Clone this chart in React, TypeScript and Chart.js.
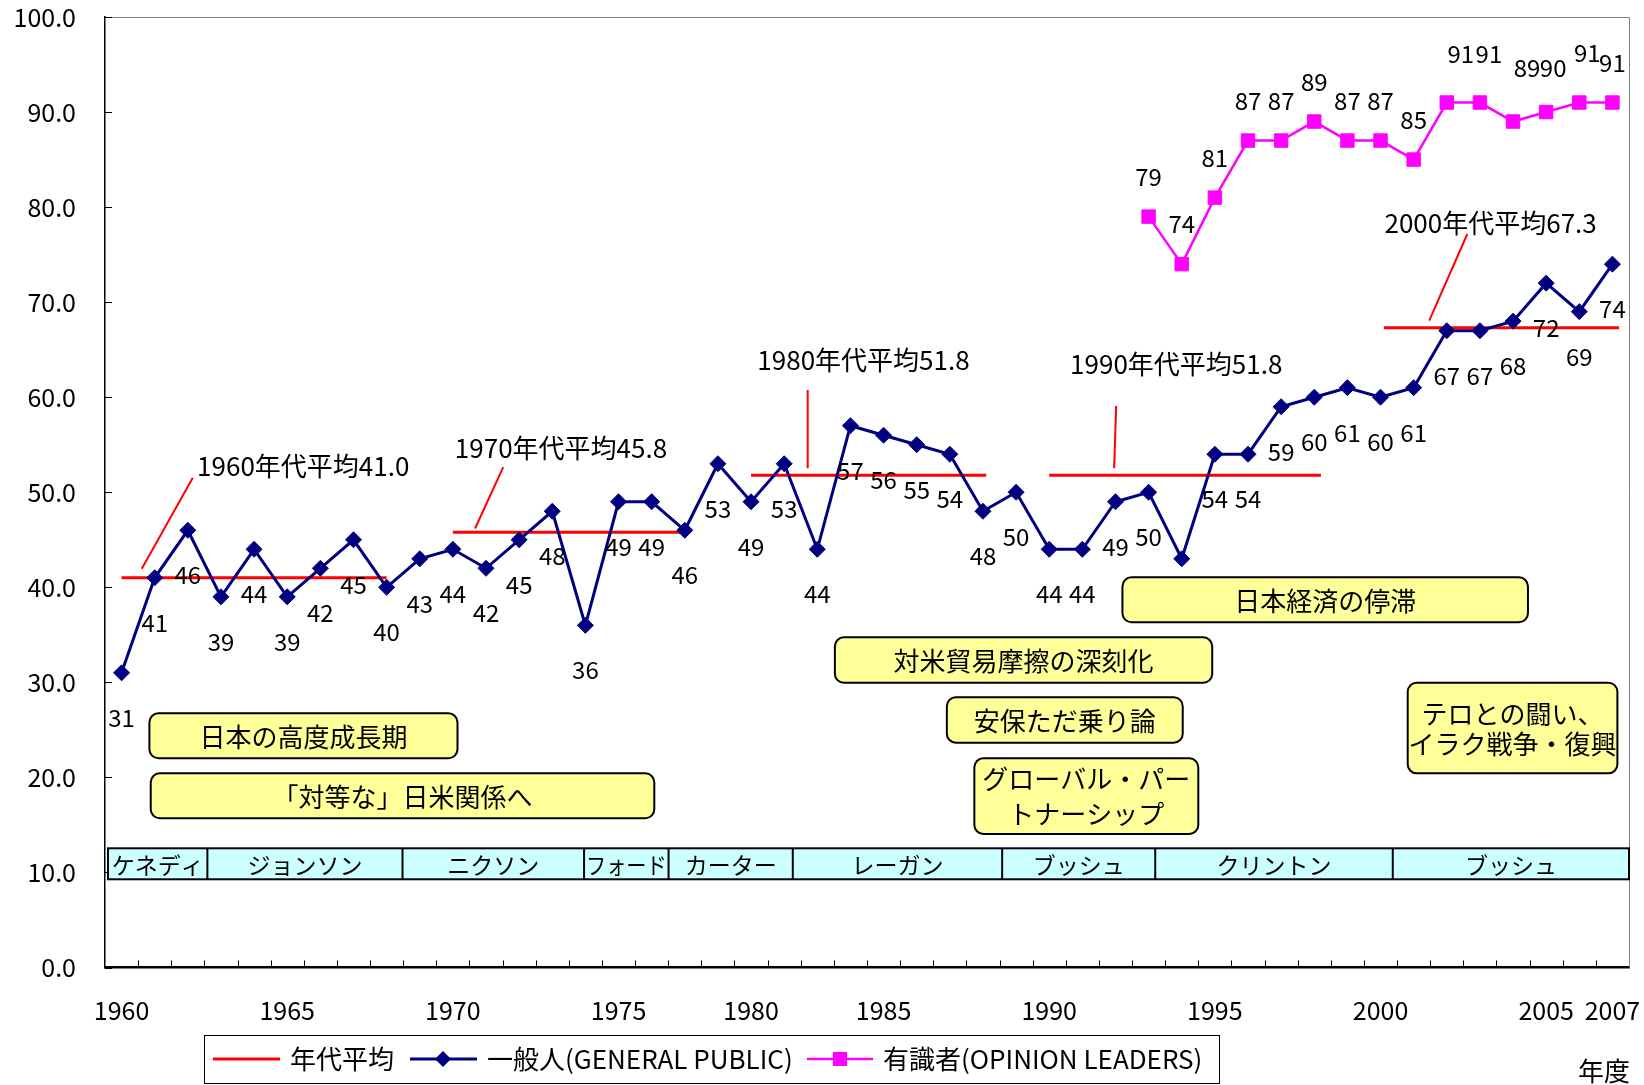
import React, { useEffect, useRef } from 'react';
import { Chart, registerables } from 'chart.js';

Chart.register(...registerables);

const W = 1644;
const H = 1085;
const FONT = "'Noto Sans CJK JP', 'Noto Sans', sans-serif";

// ---------- data ----------
const years = [
  '1960', '1961', '1962', '1963', '1964', '1965', '1966', '1967', '1968', '1969',
  '1970', '1971', '1972', '1973', '1974', '1975', '1977', '1978', '1979',
  '1980', '1982', '1983', '1984', '1985', '1986', '1987', '1988', '1989',
  '1990', '1991', '1992', '1993', '1994', '1995', '1996', '1997', '1998', '1999',
  '2000', '2001', '2002', '2003', '2004', '2005', '2006', '2007',
];
const shownYearLabels = ['1960', '1965', '1970', '1975', '1980', '1985', '1990', '1995', '2000', '2005', '2007'];

const generalPublic = [
  31, 41, 46, 39, 44, 39, 42, 45, 40, 43,
  44, 42, 45, 48, 36, 49, 49, 46, 53,
  49, 53, 44, 57, 56, 55, 54, 48, 50,
  44, 44, 49, 50, 43, 54, 54, 59, 60, 61,
  60, 61, 67, 67, 68, 72, 69, 74,
];
const opinionLeaders: (number | null)[] = [
  null, null, null, null, null, null, null, null, null, null,
  null, null, null, null, null, null, null, null, null,
  null, null, null, null, null, null, null, null, null,
  null, null, null, 79, 74, 81, 87, 87, 89, 87, 87,
  85, 91, 91, 89, 90, 91, 91,
];

const yTickValues = [0, 10, 20, 30, 40, 50, 60, 70, 80, 90, 100];

const decadeNames = ['1960', '1970', '1980', '1990', '2000'];
const decadeAverages = [41.0, 45.8, 51.8, 51.8, 67.3];

const presidents = ['ケネディ', 'ジョンソン', 'ニクソン', 'フォード', 'カーター', 'レーガン', 'ブッシュ', 'クリントン', 'ブッシュ'];

const eventTexts = [
  ['日本の高度成長期'],
  ['「対等な」日米関係へ'],
  ['対米貿易摩擦の深刻化'],
  ['安保ただ乗り論'],
  ['グローバル・パー', 'トナーシップ'],
  ['日本経済の停滞'],
  ['テロとの闘い、', 'イラク戦争・復興'],
];

const decadeLegendLabel = '年代平均';
const generalLabel = '一般人(GENERAL PUBLIC)';
const leadersLabel = '有識者(OPINION LEADERS)';
const axisTitle = '年度';

// ---------- layout (positions in axis units: category index / value) ----------
const PLOT = { left: 105, top: 17, right: 1629, bottom: 967.5 };

const decadeLineSpan = [[0, 8], [10, 17], [19, 26.1], [28, 36.2], [38.1, 45.2]];
const decadeTextAnchor = [[2.28, 52.76], [10.06, 54.66], [19.19, 63.91], [28.63, 63.49], [38.12, 78.27]];
const decadeLeader = [
  [0.61, 41.94, 2.15, 51.53],
  [10.67, 46.19, 11.52, 52.64],
  [20.71, 52.52, 20.71, 60.76],
  [29.96, 52.52, 30.02, 59.07],
  [39.47, 68.05, 40.62, 77.17],
];
const presidentBounds = [-0.41, 2.59, 8.48, 13.96, 16.51, 20.26, 26.58, 31.2, 38.37, 45.5];
const presidentBand = [9.28, 12.54];
const eventBoxes = [
  { x0: 0.84, x1: 10.14, y0: 22.01, y1: 26.74, lh: 30 },
  { x0: 0.88, x1: 16.08, y0: 15.7, y1: 20.43, lh: 30 },
  { x0: 21.53, x1: 32.92, y0: 29.96, y1: 34.74, lh: 30 },
  { x0: 24.91, x1: 32.03, y0: 23.65, y1: 28.43, lh: 30 },
  { x0: 25.74, x1: 32.5, y0: 14.05, y1: 22.01, lh: 35 },
  { x0: 30.21, x1: 42.45, y0: 36.32, y1: 41.05, lh: 30 },
  { x0: 38.82, x1: 45.15, y0: 20.43, y1: 29.96, lh: 30 },
];
// label offsets (px) for value labels
const GP_LABEL_DY = 45;
const OL_LABEL_DY = -40;
const olLabelTweaks: Record<string, [number, number]> = {
  '2002': [14, -49],
  '2003': [9, -49],
  '2004': [14, -54],
  '2005': [7, -44],
  '2006': [8, -50],
  '2007': [0, -40],
};

const NAVY = '#000080';
const MAGENTA = '#FF00FF';
const RED = '#FF0000';

function roundRect(ctx: CanvasRenderingContext2D, x: number, y: number, w: number, h: number, r: number) {
  ctx.beginPath();
  ctx.moveTo(x + r, y);
  ctx.arcTo(x + w, y, x + w, y + h, r);
  ctx.arcTo(x + w, y + h, x, y + h, r);
  ctx.arcTo(x, y + h, x, y, r);
  ctx.arcTo(x, y, x + w, y, r);
  ctx.closePath();
}

const overlayPlugin = {
  id: 'overlay',
  beforeDatasetsDraw(chart: any) {
    const { ctx } = chart;
    const xs = chart.scales.x;
    const ys = chart.scales.y;
    ctx.save();
    ctx.strokeStyle = RED;
    ctx.lineWidth = 3;
    decadeAverages.forEach((avg, i) => {
      const [a, b] = decadeLineSpan[i];
      ctx.beginPath();
      ctx.moveTo(xs.getPixelForValue(a), ys.getPixelForValue(avg));
      ctx.lineTo(xs.getPixelForValue(b), ys.getPixelForValue(avg));
      ctx.stroke();
    });
    ctx.restore();
  },
  afterDatasetsDraw(chart: any) {
    const { ctx, chartArea } = chart;
    const xs = chart.scales.x;
    const ys = chart.scales.y;
    ctx.save();

    // plot frame top / right
    ctx.strokeStyle = '#808080';
    ctx.lineWidth = 1;
    ctx.beginPath();
    ctx.moveTo(chartArea.left, chartArea.top + 0.5);
    ctx.lineTo(chartArea.right + 0.5, chartArea.top + 0.5);
    ctx.lineTo(chartArea.right + 0.5, chartArea.bottom);
    ctx.stroke();

    // inside tick marks
    ctx.strokeStyle = '#000';
    ctx.lineWidth = 1;
    for (let i = 0; i < years.length - 1; i++) {
      const x = Math.round(xs.getPixelForValue(i + 0.5)) + 0.5;
      ctx.beginPath();
      ctx.moveTo(x, chartArea.bottom);
      ctx.lineTo(x, chartArea.bottom - 7);
      ctx.stroke();
    }
    yTickValues.forEach((v) => {
      const y = Math.round(ys.getPixelForValue(v)) + 0.5;
      ctx.beginPath();
      ctx.moveTo(chartArea.left, y);
      ctx.lineTo(chartArea.left + 7, y);
      ctx.stroke();
    });

    // president band
    const by0 = ys.getPixelForValue(presidentBand[1]);
    const by1 = ys.getPixelForValue(presidentBand[0]);
    const bx0 = xs.getPixelForValue(presidentBounds[0]);
    const bx1 = xs.getPixelForValue(presidentBounds[presidentBounds.length - 1]);
    ctx.fillStyle = '#CCFFFF';
    ctx.fillRect(bx0, by0, bx1 - bx0, by1 - by0);
    ctx.strokeStyle = '#000';
    ctx.lineWidth = 2;
    ctx.strokeRect(bx0, by0, bx1 - bx0, by1 - by0);
    ctx.font = `23px ${FONT}`;
    ctx.textAlign = 'center';
    ctx.textBaseline = 'middle';
    ctx.fillStyle = '#000';
    presidents.forEach((name, i) => {
      const xa = xs.getPixelForValue(presidentBounds[i]);
      const xb = xs.getPixelForValue(presidentBounds[i + 1]);
      if (i > 0) {
        ctx.beginPath();
        ctx.moveTo(xa, by0);
        ctx.lineTo(xa, by1);
        ctx.stroke();
      }
      ctx.fillText(name, (xa + xb) / 2, (by0 + by1) / 2 + 1, xb - xa - 4);
    });

    // decade leader lines + texts
    ctx.strokeStyle = RED;
    ctx.lineWidth = 2;
    decadeLeader.forEach(([x0, y0, x1, y1]) => {
      ctx.beginPath();
      ctx.moveTo(xs.getPixelForValue(x0), ys.getPixelForValue(y0));
      ctx.lineTo(xs.getPixelForValue(x1), ys.getPixelForValue(y1));
      ctx.stroke();
    });
    ctx.fillStyle = '#000';
    ctx.font = `26px ${FONT}`;
    ctx.textAlign = 'left';
    ctx.textBaseline = 'middle';
    decadeNames.forEach((d, i) => {
      const [ax, ay] = decadeTextAnchor[i];
      ctx.fillText(`${d}年代平均${decadeAverages[i].toFixed(1)}`, xs.getPixelForValue(ax), ys.getPixelForValue(ay));
    });

    // value labels
    ctx.font = `24px ${FONT}`;
    ctx.textAlign = 'center';
    ctx.textBaseline = 'middle';
    chart.data.datasets.forEach((ds: any, di: number) => {
      const meta = chart.getDatasetMeta(di);
      meta.data.forEach((pt: any, j: number) => {
        const v = ds.data[j];
        if (v === null || v === undefined) return;
        let dx = 0;
        let dy = di === 0 ? GP_LABEL_DY : OL_LABEL_DY;
        if (di === 1 && olLabelTweaks[years[j]]) {
          [dx, dy] = olLabelTweaks[years[j]];
        }
        ctx.fillText(String(v), pt.x + dx, pt.y + dy);
      });
    });

    // event boxes
    eventBoxes.forEach((b, i) => {
      const x0 = xs.getPixelForValue(b.x0);
      const x1 = xs.getPixelForValue(b.x1);
      const y0 = ys.getPixelForValue(b.y1);
      const y1 = ys.getPixelForValue(b.y0);
      roundRect(ctx, x0, y0, x1 - x0, y1 - y0, 9);
      ctx.fillStyle = '#FFFF99';
      ctx.fill();
      ctx.strokeStyle = '#000';
      ctx.lineWidth = 2;
      ctx.stroke();
      ctx.fillStyle = '#000';
      ctx.font = `26px ${FONT}`;
      const lines = eventTexts[i];
      const cy = (y0 + y1) / 2;
      lines.forEach((t, k) => {
        ctx.fillText(t, (x0 + x1) / 2, cy + (k - (lines.length - 1) / 2) * b.lh + 1);
      });
    });
    ctx.restore();
  },
  afterDraw(chart: any) {
    const { ctx } = chart;
    ctx.save();
    // legend box
    const lx0 = 204, lx1 = 1219, ly0 = 1035, ly1 = 1083;
    const cy = (ly0 + ly1) / 2;
    ctx.strokeStyle = '#000';
    ctx.lineWidth = 1;
    ctx.strokeRect(lx0 + 0.5, ly0 + 0.5, lx1 - lx0, ly1 - ly0);
    ctx.font = `26px ${FONT}`;
    ctx.textAlign = 'left';
    ctx.textBaseline = 'middle';
    ctx.fillStyle = '#000';
    // item 1
    ctx.strokeStyle = RED;
    ctx.lineWidth = 3;
    ctx.beginPath(); ctx.moveTo(213, cy); ctx.lineTo(280, cy); ctx.stroke();
    ctx.fillText(decadeLegendLabel, 290, cy);
    // item 2
    ctx.strokeStyle = NAVY;
    ctx.beginPath(); ctx.moveTo(410, cy); ctx.lineTo(477, cy); ctx.stroke();
    ctx.fillStyle = NAVY;
    ctx.beginPath();
    ctx.moveTo(443 - 8, cy); ctx.lineTo(443, cy - 8); ctx.lineTo(443 + 8, cy); ctx.lineTo(443, cy + 8);
    ctx.closePath(); ctx.fill();
    ctx.fillStyle = '#000';
    ctx.fillText(chart.data.datasets[0].label, 487, cy);
    // item 3
    ctx.strokeStyle = MAGENTA;
    ctx.lineWidth = 2.5;
    ctx.beginPath(); ctx.moveTo(807, cy); ctx.lineTo(873, cy); ctx.stroke();
    ctx.fillStyle = MAGENTA;
    ctx.fillRect(840 - 7, cy - 7, 14, 14);
    ctx.fillStyle = '#000';
    ctx.fillText(chart.data.datasets[1].label, 883, cy);
    // axis title
    ctx.textAlign = 'center';
    ctx.fillText(axisTitle, 1604, 1071);
    ctx.restore();
  },
};

export default function App() {
  const ref = useRef<HTMLCanvasElement>(null);
  useEffect(() => {
    const canvas = ref.current;
    if (!canvas) return;
    Chart.defaults.font.family = FONT;
    const chart = new Chart(canvas, {
      type: 'line',
      data: {
        labels: years,
        datasets: [
          {
            label: generalLabel,
            data: generalPublic,
            borderColor: NAVY,
            backgroundColor: NAVY,
            borderWidth: 3,
            pointStyle: 'rectRot',
            pointRadius: 8,
            pointBorderWidth: 1,
            pointBackgroundColor: NAVY,
            pointBorderColor: NAVY,
            tension: 0,
          },
          {
            label: leadersLabel,
            data: opinionLeaders,
            borderColor: MAGENTA,
            backgroundColor: MAGENTA,
            borderWidth: 2.5,
            pointStyle: 'rect',
            pointRadius: 9.5,
            pointBorderWidth: 1,
            pointBackgroundColor: MAGENTA,
            pointBorderColor: MAGENTA,
            spanGaps: false,
            tension: 0,
          },
        ],
      },
      options: {
        responsive: false,
        devicePixelRatio: 1,
        animation: false,
        events: [],
        layout: { padding: { left: 0, top: PLOT.top, right: W - PLOT.right, bottom: 0 } },
        plugins: {
          legend: { display: false },
          tooltip: { enabled: false },
        },
        scales: {
          x: {
            type: 'category',
            offset: true,
            grid: { display: false },
            border: { display: true, color: '#000', width: 2.5 },
            ticks: {
              autoSkip: false,
              maxRotation: 0,
              minRotation: 0,
              padding: 20,
              color: '#000',
              font: { size: 25, family: FONT },
              callback: (_v: any, i: number) => (shownYearLabels.includes(years[i]) ? years[i] : ''),
            },
            afterFit: (s: any) => {
              s.height = H - PLOT.bottom;
              s.paddingLeft = 0;
              s.paddingRight = 0;
            },
          },
          y: {
            min: 0,
            max: 100,
            grid: { display: false },
            border: { display: true, color: '#000', width: 1.5 },
            ticks: {
              stepSize: 10,
              padding: 21,
              color: '#000',
              font: { size: 25, family: FONT },
              callback: (v: any) => Number(v).toFixed(1),
            },
            afterFit: (s: any) => {
              s.width = PLOT.left;
              s.paddingTop = 0;
              s.paddingBottom = 0;
            },
          },
        },
      },
      plugins: [overlayPlugin],
    } as any);
    return () => chart.destroy();
  }, []);
  return (
    <div style={{ position: 'fixed', left: 0, top: 0, width: W, height: H, background: '#fff' }}>
      <canvas ref={ref} width={W} height={H} style={{ width: W, height: H, display: 'block' }} />
    </div>
  );
}
